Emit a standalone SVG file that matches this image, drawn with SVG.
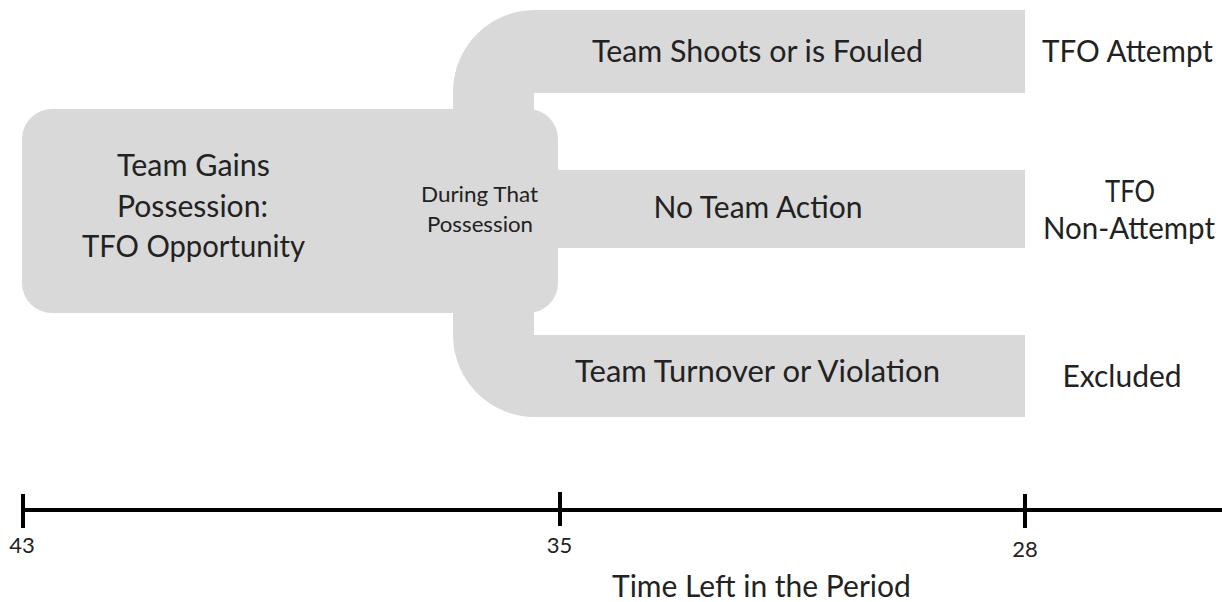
<svg xmlns="http://www.w3.org/2000/svg" width="1222" height="602" viewBox="0 0 1222 602">
<style>
.shape{fill:#d9d9d9;stroke:none}
.t{font-family:Lato,"Open Sans","Liberation Sans",sans-serif;fill:#222222;text-anchor:middle}
.big{font-size:30px}
.small{font-size:21.5px}
.num{font-size:22px}
.axis{stroke:#000;stroke-width:4;fill:none}
</style>
<rect width="1222" height="602" fill="#ffffff"/>
<g id="node-possession">
<rect class="shape" x="22" y="109" width="536" height="204" rx="30" ry="30"/>
<text class="t big" x="193.5" y="176" textLength="153" lengthAdjust="spacingAndGlyphs">Team Gains</text>
<text class="t big" x="192.5" y="217" textLength="151" lengthAdjust="spacingAndGlyphs">Possession:</text>
<text class="t big" x="193.5" y="257" textLength="223" lengthAdjust="spacingAndGlyphs">TFO Opportunity</text>
<text class="t small" x="479.5" y="202" textLength="117" lengthAdjust="spacingAndGlyphs">During That</text>
<text class="t small" x="480" y="232" textLength="106" lengthAdjust="spacingAndGlyphs">Possession</text>
</g>
<g id="connectors">
<path class="shape" d="M453 116 L453 92 A82 82 0 0 1 535 10 L1025 10 L1025 93 L534 93 L534 116 Z"/>
<path class="shape" d="M453 306 L453 335 A82 82 0 0 0 535 417 L1025 417 L1025 335 L534 335 L534 306 Z"/>
<rect class="shape" x="550" y="170" width="475" height="78"/>
</g>
<g id="node-shoots">
<text class="t big" x="757.5" y="62" textLength="331" lengthAdjust="spacingAndGlyphs">Team Shoots or is Fouled</text>
</g>
<g id="node-noaction">
<text class="t big" x="758" y="218">No Team Action</text>
</g>
<g id="node-turnover">
<text class="t big" x="757.5" y="382" textLength="365" lengthAdjust="spacingAndGlyphs">Team Turnover or Violation</text>
</g>
<g id="node-attempt">
<text class="t big" x="1127.5" y="62" textLength="171" lengthAdjust="spacingAndGlyphs">TFO Attempt</text>
</g>
<g id="node-nonattempt">
<text class="t big" x="1130" y="202" textLength="50" lengthAdjust="spacingAndGlyphs">TFO</text>
<text class="t big" x="1129" y="239" textLength="172" lengthAdjust="spacingAndGlyphs">Non-Attempt</text>
</g>
<g id="node-excluded">
<text class="t big" x="1122" y="387">Excluded</text>
</g>
<g id="timeline">
<line class="axis" x1="22" y1="510" x2="1222" y2="510"/>
<line class="axis" x1="23" y1="494" x2="23" y2="528"/>
<line class="axis" x1="560" y1="492" x2="560" y2="526"/>
<line class="axis" x1="1025" y1="494" x2="1025" y2="528"/>
<text class="t num" x="22" y="553">43</text>
<text class="t num" x="559.5" y="553">35</text>
<text class="t num" x="1025" y="557">28</text>
<text class="t big" x="612" y="597" style="text-anchor:start">Time Left in the Period</text>
</g>
</svg>
